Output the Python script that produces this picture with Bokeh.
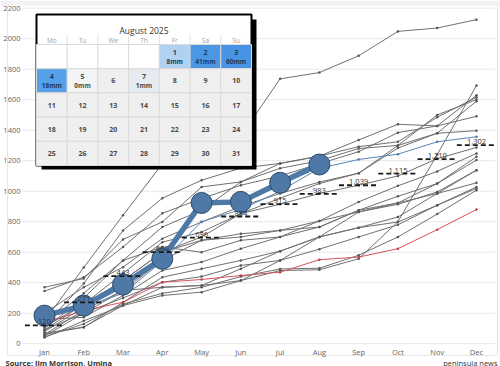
from bokeh.plotting import figure
from bokeh.models import Range1d
from bokeh.core.properties import value
from bokeh.embed import file_html
from bokeh.resources import INLINE

# ---------------- data ----------------
months = ["Jan", "Feb", "Mar", "Apr", "May", "Jun", "Jul", "Aug", "Sep", "Oct", "Nov", "Dec"]
y_ticks = [0, 200, 400, 600, 800, 1000, 1200, 1400, 1600, 1800, 2000, 2200]

hist_01 = [150, 500, 842, 1180, 1250, 1362, 1737, 1778, 1888, 2048, 2070, 2125]
hist_02 = [60, 110, 250, 370, 382, 414, 480, 485, 557, 800, 1240, 1693]
hist_03 = [345, 436, 634, 855, 952, 1039, 1100, 1180, 1259, 1384, 1428, 1629]
hist_04 = [100, 300, 546, 765, 875, 1061, 1182, 1230, 1292, 1324, 1485, 1616]
hist_05 = [200, 370, 502, 689, 798, 900, 985, 1060, 1118, 1300, 1500, 1601]
hist_06 = [370, 427, 684, 798, 1028, 1061, 1150, 1200, 1280, 1300, 1380, 1590]
hist_07 = [120, 395, 743, 954, 1072, 1151, 1182, 1230, 1336, 1439, 1428, 1491]
hist_08 = [90, 260, 460, 666, 732, 853, 954, 1050, 1118, 1283, 1380, 1397]
hist_09 = [80, 239, 414, 600, 700, 853, 915, 985, 1039, 1100, 1213, 1287]
hist_10 = [50, 200, 349, 546, 678, 721, 743, 805, 930, 1035, 1130, 1248]
hist_11 = [130, 331, 546, 634, 600, 678, 700, 765, 875, 967, 1050, 1226]
hist_12 = [160, 173, 316, 480, 535, 623, 700, 805, 864, 923, 1050, 1204]
hist_13 = [70, 107, 272, 436, 491, 546, 607, 700, 864, 914, 995, 1138]
hist_14 = [40, 150, 250, 316, 338, 414, 546, 700, 761, 831, 985, 1138]
hist_15 = [110, 260, 414, 600, 678, 700, 743, 765, 875, 923, 985, 1055]
hist_16 = [60, 220, 349, 370, 382, 491, 607, 700, 761, 798, 908, 1028]
hist_17 = [90, 200, 300, 403, 440, 513, 546, 620, 700, 780, 908, 1018]
hist_18 = [45, 130, 260, 330, 370, 440, 490, 495, 580, 700, 850, 1007]
gray_series = [hist_01, hist_02, hist_03, hist_04, hist_05, hist_06, hist_07, hist_08,
               hist_09, hist_10, hist_11, hist_12, hist_13, hist_14, hist_15, hist_16,
               hist_17, hist_18]

blue_year = [170, 240, 330, 540, 800, 880, 1000, 1150, 1208, 1243, 1324, 1357]
red_year = [138, 217, 272, 403, 421, 447, 469, 551, 568, 623, 748, 880]
year_2025 = [184, 250, 388, 557, 923, 930, 1055, 1175]
average = [120, 271, 443, 600, 696, 834, 915, 983, 1039, 1115, 1210, 1302]
average_labels = ["120", "271", "443", "600", "696", "834", "915", "983",
                  "1,039", "1,115", "1,210", "1,302"]

cal_title = "August 2025"
cal_weekdays = ["Mo", "Tu", "We", "Th", "Fr", "Sa", "Su"]
cal_n_days = 31
cal_first_weekday = 4  # Friday
rain_days = [1, 2, 3, 4, 5, 7]
rain_mm = [8, 41, 60, 18, 0, 1]
rain_colors = {0: "#f3f4f6", 1: "#e6ebf0", 8: "#b0d1f1", 18: "#55a0e9", 41: "#4b97e4", 60: "#4893e3"}

source_text = "Source: Jim Morrison, Umina"
credit_text = "peninsula news"

FONT = value("Open Sans")

# ---------------- geometry (whole canvas is the frame) ----------------
W, H = 500, 366
PPM = 39.27          # pixels per month
JAN_PX = 44.0        # pixel x of Jan
ZERO_PY = 343.2      # pixel y of value 0
PPU = 0.1525         # pixels per mm
X0 = -JAN_PX / PPM
X1 = (W - JAN_PX) / PPM
Y1 = ZERO_PY / PPU
Y0 = (ZERO_PY - H) / PPU


def dx(px):
    return X0 + px * (X1 - X0) / W


def dy(py):
    return Y1 - py * (Y1 - Y0) / H


p = figure(width=W, height=H, output_backend="svg", toolbar_location=None,
           x_range=Range1d(X0, X1), y_range=Range1d(Y0, Y1),
           x_axis_location=None, y_axis_location=None,
           min_border=0, min_border_left=0, min_border_right=0,
           min_border_top=0, min_border_bottom=0)
p.outline_line_color = None
p.background_fill_color = "white"
p.border_fill_color = "white"
p.grid.visible = False

# panel frame (Tableau-like pane)
p.quad(left=[dx(0)], right=[dx(W)], top=[dy(0)], bottom=[dy(5)], fill_color="#f2f2f2", line_color=None)
p.segment(x0=[dx(7), dx(497), dx(7)], x1=[dx(7), dx(497), dx(497)],
          y0=[dy(5), dy(5), dy(355)], y1=[dy(355), dy(355), dy(355)],
          line_color="#e6e6e6", line_width=1)

# gridlines + y labels
p.segment(x0=[dx(22)] * len(y_ticks), x1=[dx(495)] * len(y_ticks), y0=y_ticks, y1=y_ticks,
          line_color="#e8e8e8", line_width=1)
p.text(x=[dx(20)] * len(y_ticks), y=y_ticks, text=[str(t) for t in y_ticks],
       text_font=FONT, text_font_size="7.5px", text_color="#666666",
       text_align="right", text_baseline="middle")

mx = list(range(12))
p.text(x=mx, y=[dy(351)] * 12, text=months, text_font=FONT, text_font_size="7.5px",
       text_color="#666666", text_align="center", text_baseline="middle")

# gray history lines
for s in gray_series:
    p.line(mx, s, line_color="#707070", line_width=1)
    p.scatter(mx, s, size=2.5, fill_color="#555555", line_color=None)

p.line(mx, red_year, line_color="#d4545c", line_width=1)
p.scatter(mx, red_year, size=2.5, fill_color="#c04048", line_color=None)
p.line(mx, blue_year, line_color="#5a86b5", line_width=1)
p.scatter(mx, blue_year, size=2.5, fill_color="#4e79a7", line_color=None)

# current year
m25 = list(range(len(year_2025)))
p.line(m25, year_2025, line_color="#4e79a7", line_width=5.5)
p.scatter(m25, year_2025, size=21, fill_color="#4e79a7", line_color="#2c4a6b", line_width=1)

# averages
p.segment(x0=[m - 0.5 for m in mx], x1=[m + 0.5 for m in mx], y0=average, y1=average,
          line_color="#1a1a1a", line_width=1.8, line_dash="5 3")
p.text(x=mx, y=average, text=average_labels, text_font=FONT, text_font_size="7.5px",
       text_color="#333333", text_align="center", text_baseline="bottom", y_offset=-1)

# ---------------- calendar inset ----------------
CAL_L, CAL_R, CAL_T, CAL_B = 36, 251, 14, 165
HEAD_T, ROW0 = 34, 44
CW = (CAL_R - CAL_L) / 7
RH = (CAL_B - ROW0) / 5

p.quad(left=[dx(CAL_L + 5)], right=[dx(CAL_R + 5)], top=[dy(CAL_T + 5)], bottom=[dy(CAL_B + 4)],
       fill_color="black", line_color=None)
p.quad(left=[dx(CAL_L)], right=[dx(CAL_R)], top=[dy(CAL_T)], bottom=[dy(CAL_B)],
       fill_color="white", line_color="black", line_width=2)

p.segment(x0=[dx(CAL_L + CW * c) for c in range(1, 7)], x1=[dx(CAL_L + CW * c) for c in range(1, 7)],
          y0=[dy(HEAD_T)] * 6, y1=[dy(ROW0)] * 6, line_color="#e2e2e2", line_width=1)

cl, cr, ct, cb, cf = [], [], [], [], []
num_x, num_y, num_t, num_c = [], [], [], []
mm_x, mm_y, mm_t, mm_c = [], [], [], []
for idx in range(35):
    r, c = idx // 7, idx % 7
    L = CAL_L + c * CW
    T = ROW0 + r * RH
    cl.append(dx(L)); cr.append(dx(L + CW)); ct.append(dy(T)); cb.append(dy(T + RH))
    d = idx - cal_first_weekday + 1
    if d < 1 or d > cal_n_days:
        cf.append("white")
        continue
    cx = L + CW / 2
    cy = T + RH / 2
    if d in rain_days:
        mmv = rain_mm[rain_days.index(d)]
        cf.append(rain_colors[mmv])
        tc = "#1b3a5c" if mmv >= 8 else "#4a4a4a"
        num_x.append(dx(cx)); num_y.append(dy(cy - 4.5)); num_t.append(str(d)); num_c.append(tc)
        mm_x.append(dx(cx)); mm_y.append(dy(cy + 5)); mm_t.append(f"{mmv}mm"); mm_c.append(tc)
    else:
        cf.append("#efefef")
        num_x.append(dx(cx)); num_y.append(dy(cy)); num_t.append(str(d)); num_c.append("#4a4a4a")

p.quad(left=cl, right=cr, top=ct, bottom=cb, fill_color=cf, line_color="#dadada", line_width=1)
p.text(x=num_x, y=num_y, text=num_t, text_color=num_c, text_font=FONT, text_font_size="7px",
       text_font_style="bold", text_align="center", text_baseline="middle")
p.text(x=mm_x, y=mm_y, text=mm_t, text_color=mm_c, text_font=FONT, text_font_size="6.5px",
       text_font_style="bold", text_align="center", text_baseline="middle")

p.text(x=[dx(CAL_L + CW * (c + 0.5)) for c in range(7)], y=[dy(40)] * 7, text=cal_weekdays,
       text_color="#a0a0a0", text_font=FONT, text_font_size="6.5px",
       text_align="center", text_baseline="middle")
p.text(x=[dx((CAL_L + CAL_R) / 2)], y=[dy(29.5)], text=[cal_title], text_color="#333333",
       text_font=FONT, text_font_size="8.5px", text_align="center", text_baseline="middle")

# source / credit
p.text(x=[dx(5)], y=[dy(362)], text=[source_text], text_font=FONT, text_font_size="7.5px",
       text_font_style="bold", text_color="#333333", text_align="left", text_baseline="middle")
p.text(x=[dx(497)], y=[dy(362)], text=[credit_text], text_font=FONT, text_font_size="7.5px",
       text_color="#333333", text_align="right", text_baseline="middle")

open("out.html", "w").write(file_html(p, INLINE))
